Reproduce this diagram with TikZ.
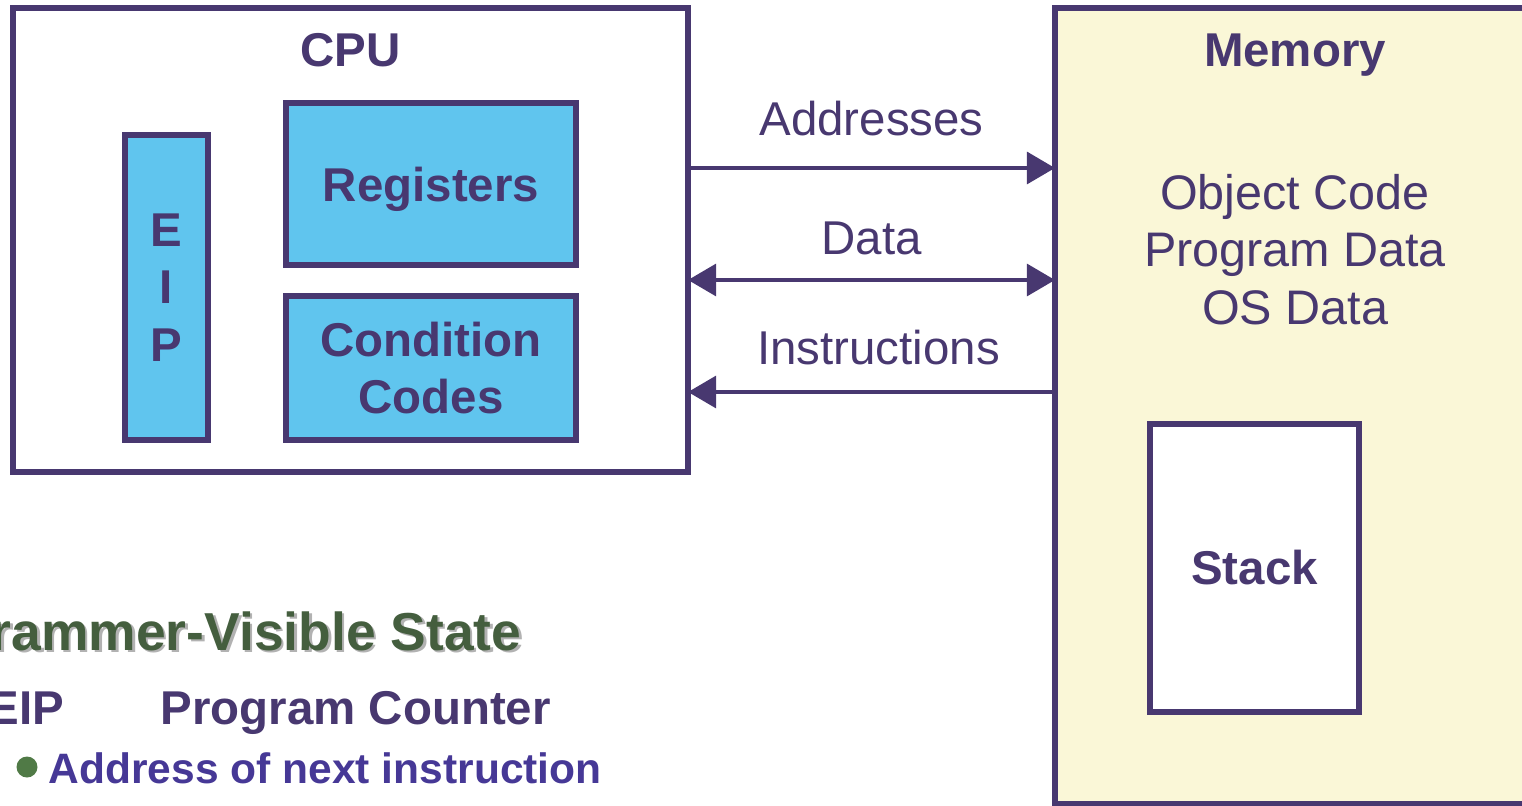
\documentclass[tikz,border=0pt]{standalone}
\usepackage{fontspec}
\setmainfont{Liberation Sans}
\usepackage{xcolor}
\usepackage{tikz}
\definecolor{cpuPurple}{RGB}{72,56,112}
\definecolor{regBlue}{RGB}{96,197,238}
\definecolor{memYellow}{RGB}{250,247,215}
\definecolor{stateGreen}{RGB}{68,94,62}
\definecolor{dotGreen}{RGB}{80,122,70}
\definecolor{itemBlue}{RGB}{70,56,150}
\usetikzlibrary{arrows.meta, positioning}
\tikzstyle{unit} = [draw=cpuPurple, line width=1.6pt, rectangle, outer sep=0pt, inner sep=0pt, text=cpuPurple, font=\bfseries\fontsize{13.5}{16.4}\selectfont, align=center]
\tikzstyle{reg} = [unit, fill=regBlue]
\tikzstyle{bus} = [draw=cpuPurple, line width=1.3pt]
\tikzstyle{busLabel} = [text=cpuPurple, font=\fontsize{13.5}{16.2}\selectfont, inner sep=0pt]
\tikzstyle{title} = [text=cpuPurple, font=\bfseries\fontsize{13.5}{16.2}\selectfont, inner sep=0pt, anchor=base]
\tikzstyle{memText} = [text=cpuPurple, font=\fontsize{13.8}{16.2}\selectfont, inner sep=0pt, anchor=base]

\begin{document}
\begin{tikzpicture}[>={Triangle[length=8pt, width=9pt]}]
        \useasboundingbox (0,0) rectangle (15.22,-8.06);
        \clip (0,0) rectangle (15.22,-8.06);
        % We start by placing the blocks
        \node [unit, fill=white, minimum width=6.75cm, minimum height=4.64cm, anchor=north west] (cpu) at (0.13,-0.08) {};
        \node [title] (cpuTitle) at ([yshift=-0.59cm]cpu.north) {CPU};
        \node [reg, minimum width=2.90cm, minimum height=1.62cm, text depth=0pt, anchor=north west] (regs) at (2.86,-1.03) {Registers};
        \node [reg, below=0.31cm of regs, minimum width=2.90cm, minimum height=1.44cm] (condCodes) {Condition\\Codes};
        \node [reg, left=0.78cm of condCodes.south west, anchor=south east, minimum width=0.83cm, minimum height=3.05cm] (eip) {E\\I\\P};

        \node [unit, fill=memYellow, minimum width=5cm, minimum height=7.96cm, anchor=north west] (mem) at (10.55,-0.08) {};
        \node [title] (memTitle) at (12.95,-0.67) {Memory};
        \node [memText] (objCode) at (12.95,-2.10) {Object Code};
        \node [memText] (progData) at (12.95,-2.67) {Program Data};
        \node [memText] (osData) at (12.95,-3.24) {OS Data};
        \node [unit, fill=white, minimum width=2.09cm, minimum height=2.88cm, anchor=north west] (stack) at (11.50,-4.24) {Stack};

        % Once the nodes are placed, connecting them is easy.
        \coordinate (addrY) at (8.7,-1.68);
        \coordinate (dataY) at (8.7,-2.80);
        \coordinate (instrY) at (8.7,-3.92);
        \draw [bus,->] (cpu.east |- addrY) -- node[busLabel, above=0.30cm]{Addresses} (mem.west |- addrY);
        \draw [bus,<->] (cpu.east |- dataY) -- node[busLabel, above=0.23cm]{Data} (mem.west |- dataY);
        \draw [bus,<-] (cpu.east |- instrY) -- node[busLabel, above=0.25cm, xshift=0.07cm]{Instructions} (mem.west |- instrY);

        % Programmer-visible state
        \node [text=black!30, font=\bfseries\fontsize{15.2}{18}\selectfont, inner sep=0pt, anchor=base east] (pvsShadow) at (5.245,-6.525) {Programmer-Visible State};
        \node [text=stateGreen, font=\bfseries\fontsize{15.2}{18}\selectfont, inner sep=0pt, anchor=base east] (pvs) at (5.22,-6.50) {Programmer-Visible State};
        \node [text=cpuPurple, font=\bfseries\fontsize{13.5}{16}\selectfont, inner sep=0pt, anchor=base east] (eipName) at (0.65,-7.24) {EIP};
        \node [text=cpuPurple, font=\bfseries\fontsize{13.5}{16}\selectfont, inner sep=0pt, anchor=base west] (pcName) at (1.60,-7.24) {Program Counter};
        \node [circle, fill=dotGreen, minimum size=0.21cm, inner sep=0pt] (dot) at (0.27,-7.67) {};
        \node [text=itemBlue, font=\bfseries\fontsize{12.1}{15}\selectfont, inner sep=0pt, anchor=base west] (pcNote) at (0.48,-7.83) {Address of next instruction};
    \end{tikzpicture}
\end{document}
